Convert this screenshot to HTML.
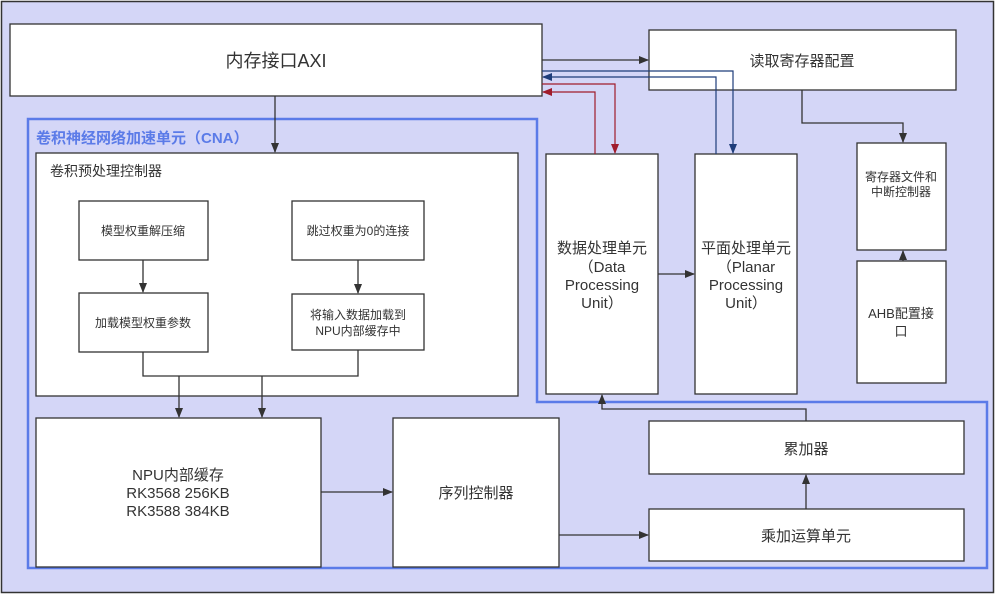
<!DOCTYPE html>
<html><head><meta charset="utf-8"><style>
html,body{margin:0;padding:0;background:#fff}
svg{display:block}
text{font-family:"Liberation Sans","Noto Sans CJK SC",sans-serif;fill:#333;text-anchor:middle}
</style></head><body>
<svg width="997" height="596" viewBox="0 0 997 596" xmlns="http://www.w3.org/2000/svg">
<defs>
<marker id="a" markerWidth="10" markerHeight="10" refX="9" refY="5" orient="auto" markerUnits="userSpaceOnUse"><path d="M0,1 L10,5 L0,9 z" fill="#333"/></marker>
<marker id="r" markerWidth="10" markerHeight="10" refX="9" refY="5" orient="auto" markerUnits="userSpaceOnUse"><path d="M0,1 L10,5 L0,9 z" fill="#a01c2c"/></marker>
<marker id="b" markerWidth="10" markerHeight="10" refX="9" refY="5" orient="auto" markerUnits="userSpaceOnUse"><path d="M0,1 L10,5 L0,9 z" fill="#1f3d7a"/></marker>
</defs>
<rect x="1.5" y="1.5" width="992" height="591" fill="#d4d6f7" stroke="#333" stroke-width="1.5"/>
<!-- CNA outline -->
<path d="M28,119 H537 V402 H987 V568 H28 Z" fill="none" stroke="#5b7be8" stroke-width="2.5"/>
<text x="36" y="143" style="text-anchor:start;font-size:15px;font-weight:bold;fill:#5b7be8">卷积神经网络加速单元（CNA）</text>

<g fill="#fff" stroke="#333" stroke-width="1.3">
<rect x="10" y="24" width="532" height="72"/>
<rect x="649" y="30" width="307" height="60"/>
<rect x="36" y="153" width="482" height="243"/>
<rect x="79" y="201" width="129" height="59"/>
<rect x="79" y="293" width="129" height="59"/>
<rect x="292" y="201" width="132" height="59"/>
<rect x="292" y="294" width="132" height="56"/>
<rect x="546" y="154" width="112" height="240"/>
<rect x="695" y="154" width="102" height="240"/>
<rect x="857" y="143" width="89" height="107"/>
<rect x="857" y="261" width="89" height="122"/>
<rect x="36" y="418" width="285" height="149"/>
<rect x="393" y="418" width="166" height="149"/>
<rect x="649" y="421" width="315" height="53"/>
<rect x="649" y="509" width="315" height="52"/>
</g>

<g fill="none" stroke="#333" stroke-width="1.3">
<path d="M542,60 H648" marker-end="url(#a)"/>
<path d="M275,96 V152" marker-end="url(#a)"/>
<path d="M802,90 V123 H903 V142" marker-end="url(#a)"/>
<path d="M903,261 V251" marker-end="url(#a)"/>
<path d="M658,274 H694" marker-end="url(#a)"/>
<path d="M143,260 V292" marker-end="url(#a)"/>
<path d="M358,260 V293" marker-end="url(#a)"/>
<path d="M143,352 V376 H358 V350"/>
<path d="M179,376 V417" marker-end="url(#a)"/>
<path d="M262,376 V417" marker-end="url(#a)"/>
<path d="M321,492 H392" marker-end="url(#a)"/>
<path d="M559,535 H648" marker-end="url(#a)"/>
<path d="M806,509 V475" marker-end="url(#a)"/>
<path d="M806,421 V409 H602 V395" marker-end="url(#a)"/>
</g>
<g fill="none" stroke-width="1.2">
<path d="M542,84 H615 V153" stroke="#a01c2c" marker-end="url(#r)"/>
<path d="M595,154 V92 H543" stroke="#a01c2c" marker-end="url(#r)"/>
<path d="M542,71 H733 V153" stroke="#1f3d7a" marker-end="url(#b)"/>
<path d="M716,154 V77 H543" stroke="#1f3d7a" marker-end="url(#b)"/>
</g>

<text x="276" y="67" style="font-size:18px">内存接口AXI</text>
<text x="802" y="66" style="font-size:15px">读取寄存器配置</text>
<text x="50" y="176" style="font-size:14px;text-anchor:start">卷积预处理控制器</text>
<text x="143" y="235" style="font-size:12px">模型权重解压缩</text>
<text x="143" y="327" style="font-size:12px">加载模型权重参数</text>
<text x="358" y="235" style="font-size:12px">跳过权重为0的连接</text>
<text x="358" y="319" style="font-size:12px">将输入数据加载到</text>
<text x="358" y="335" style="font-size:12px">NPU内部缓存中</text>
<g style="font-size:15px">
<text x="602" y="253">数据处理单元</text>
<text x="602" y="272">（Data</text>
<text x="602" y="290">Processing</text>
<text x="602" y="308">Unit）</text>
<text x="746" y="253">平面处理单元</text>
<text x="746" y="272">（Planar</text>
<text x="746" y="290">Processing</text>
<text x="746" y="308">Unit）</text>
</g>
<text x="901" y="181" style="font-size:12px">寄存器文件和</text>
<text x="901" y="196" style="font-size:12px">中断控制器</text>
<text x="901" y="318" style="font-size:13px">AHB配置接</text>
<text x="901" y="336" style="font-size:13px">口</text>
<g style="font-size:15px">
<text x="178" y="480">NPU内部缓存</text>
<text x="178" y="498">RK3568 256KB</text>
<text x="178" y="516">RK3588 384KB</text>
<text x="476" y="498">序列控制器</text>
<text x="806" y="454">累加器</text>
<text x="806" y="541">乘加运算单元</text>
</g>
</svg>
</body></html>
